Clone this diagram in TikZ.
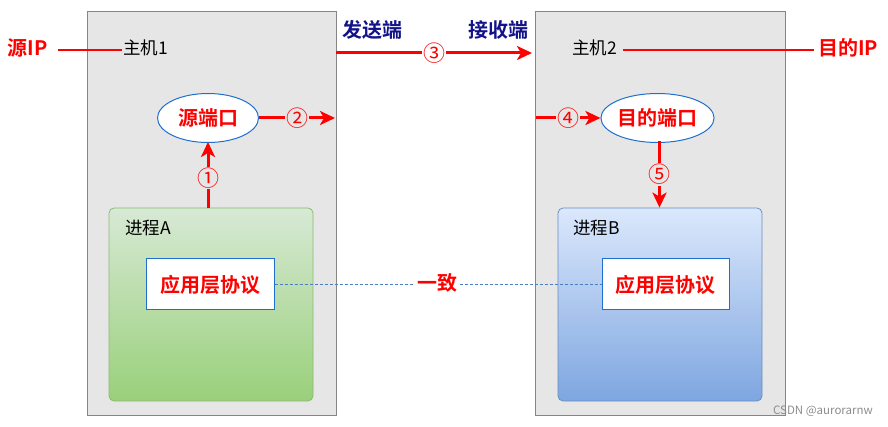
\documentclass[tikz,border=0pt]{standalone}
\usepackage{fontspec}
\setmainfont{Noto Sans CJK SC}[BoldFont={Noto Sans CJK SC Bold}]
\usetikzlibrary{arrows.meta,shapes.geometric}
\definecolor{hostgray}{HTML}{E6E6E6}
\definecolor{hostline}{HTML}{858585}
\definecolor{navy}{HTML}{12128A}
\definecolor{gtop}{HTML}{D7E9D5}
\definecolor{gbot}{HTML}{99D07A}
\definecolor{gline}{HTML}{8CBB70}
\definecolor{btop}{HTML}{DBE8FC}
\definecolor{bbot}{HTML}{7EA6E0}
\definecolor{bline}{HTML}{6C8EBF}
\definecolor{dashblue}{HTML}{4A7EC0}
\definecolor{ellblue}{HTML}{1F6FCF}
\tikzset{
  hostbox/.style={draw=hostline, line width=1pt, fill=hostgray, inner sep=0pt},
  procA/.style={draw=gline, line width=0.8pt, rounded corners=5pt, top color=gtop, bottom color=gbot, inner sep=0pt},
  procB/.style={draw=bline, line width=0.8pt, rounded corners=5pt, top color=btop, bottom color=bbot, inner sep=0pt},
  appbox/.style={draw=ellblue, line width=1pt, fill=white, inner sep=0pt, minimum width=127pt, minimum height=51pt,
    font=\fontsize{20}{24}\selectfont\bfseries, text=red},
  portell/.style={ellipse, draw=ellblue, line width=1pt, fill=white, inner sep=0pt, minimum width=101pt, minimum height=49pt,
    font=\fontsize{20}{24}\selectfont\bfseries, text=red},
  plainlbl/.style={inner sep=0pt, font=\fontsize{17.5}{20}\selectfont, text height=12pt, text depth=2pt},
  redlbl/.style={inner sep=0pt, font=\fontsize{20}{24}\selectfont\bfseries, text=red, text height=14pt, text depth=2pt},
  navylbl/.style={inner sep=0pt, font=\fontsize{20}{24}\selectfont\bfseries, text=navy},
  redarrow/.style={draw=red, line width=3pt, -{Stealth[length=15pt,width=14pt,inset=4pt]}},
  redline/.style={draw=red, line width=2pt},
  num/.style={inner sep=1pt, text=red, font=\fontsize{22}{24}\selectfont},
}
\begin{document}
\begin{tikzpicture}[x=1pt,y=-1pt]
\useasboundingbox (0,0) rectangle (888,427);
% hosts
\node[hostbox, minimum width=249pt, minimum height=403pt] (h1) at (211.5,213.5) {};
\node[hostbox, minimum width=250pt, minimum height=403pt] (h2) at (660,213.5) {};
% processes
\node[procA, minimum width=204pt, minimum height=193pt] (pa) at (211,304.5) {};
\node[procB, minimum width=204pt, minimum height=193pt] (pb) at (660,304.5) {};
\node[plainlbl, anchor=west] (pal) at (125,230) {进程A};
\node[plainlbl, anchor=west] (pbl) at (573,230) {进程B};
% app protocol boxes
\node[appbox, minimum width=128pt] (appa) at (210,284.5) {应用层协议};
\node[appbox] (appb) at (665.5,284.5) {应用层协议};
% ports
\node[portell] (sp) at (208,118) {源端口};
\node[portell] (dp) at (657.5,118) {目的端口};
% host labels
\node[plainlbl, anchor=west] (h1l) at (123,50) {主机1};
\node[plainlbl, anchor=west] (h2l) at (572,50) {主机2};
\node[redlbl, anchor=east] (sip) at (48,50) {源IP};
\node[redlbl, anchor=west] (dip) at (818,50) {目的IP};
\draw[redline, shorten <=10pt, shorten >=1pt] (sip.east) -- (h1l.west);
\draw[redline, shorten <=6pt, shorten >=4pt] (h2l.east) -- (dip.west);
% sender / receiver
\node[navylbl] (snd) at (372,30) {发送端};
\node[navylbl] (rcv) at (498,30) {接收端};
% arrows
\coordinate (s3) at (336,53);
\coordinate (e3) at (532,53);
\draw[redarrow] (s3) -- (e3) node[num, pos=0.5, fill=white] {③};
\coordinate (e2) at (335,118);
\draw[redarrow] (sp.east) -- (e2) node[num, pos=0.5, fill=hostgray] {②};
\coordinate (s4) at (536,118);
\draw[redarrow] (s4) -- (dp.west) node[num, pos=0.5, fill=hostgray] {④};
\draw[redarrow] (sp.south |- pa.north) -- ([yshift=1pt]sp.south) node[num, pos=0.45, fill=hostgray] {①};
\draw[redarrow] ([xshift=2pt,yshift=2pt]dp.south) -- ([xshift=2pt]dp.south |- pb.north) node[num, pos=0.5, fill=hostgray] {⑤};
% consistency line
\draw[dashblue, line width=1pt, dash pattern=on 3pt off 2pt] (appa.east) -- (appb.west)
  node[redlbl, pos=0.497, fill=white, inner xsep=3pt] {一致};
% watermark text
\node[inner sep=0pt, text=black!45, font=\fontsize{11.5}{13}\selectfont, anchor=east] (wm) at (873,411) {CSDN @aurorarnw};
\end{tikzpicture}
\end{document}
